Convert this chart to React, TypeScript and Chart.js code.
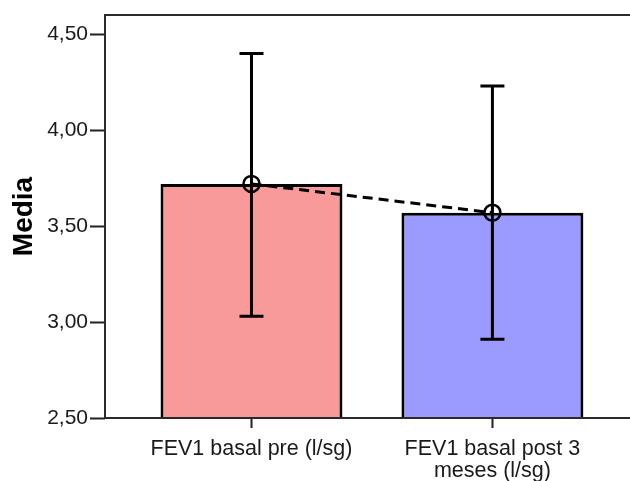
import React, { useEffect, useRef } from 'react';
import { Chart, registerables } from 'chart.js';

Chart.register(...registerables);

// Mean FEV1 before and 3 months after, with 95% CI
const categories: (string | string[])[] = [
  'FEV1 basal pre (l/sg)',
  ['FEV1 basal post 3', 'meses (l/sg)'],
];
const means: number[] = [3.72, 3.57];
const ciLow: number[] = [3.03, 2.91];
const ciHigh: number[] = [4.4, 4.23];
const barColors: string[] = ['#F99A9A', '#9A9AFF'];
const yTicks: number[] = [2.5, 3.0, 3.5, 4.0, 4.5];

const FONT = '"Liberation Sans", Arial, sans-serif';
const INK = '#1a1a1a';

const frame = {
  id: 'frame',
  afterDatasetsDraw(chart: any) {
    const { ctx, chartArea } = chart;
    ctx.save();
    ctx.strokeStyle = '#2a2a2a';
    ctx.lineWidth = 2;
    ctx.beginPath();
    ctx.moveTo(chart.width, chartArea.top);
    ctx.lineTo(chartArea.left, chartArea.top);
    ctx.lineTo(chartArea.left, chartArea.bottom);
    ctx.lineTo(chart.width, chartArea.bottom);
    ctx.stroke();
    ctx.restore();
  },
};

const errorBars = {
  id: 'errorBars',
  afterDatasetsDraw(chart: any) {
    const { ctx } = chart;
    const x = chart.scales.x;
    const y = chart.scales.y;
    ctx.save();
    ctx.strokeStyle = '#000';
    ctx.lineWidth = 3;
    means.forEach((_, i) => {
      const px = x.getPixelForValue(i);
      const top = y.getPixelForValue(ciHigh[i]);
      const bot = y.getPixelForValue(ciLow[i]);
      const cap = 12;
      ctx.beginPath();
      ctx.moveTo(px, top);
      ctx.lineTo(px, bot);
      ctx.moveTo(px - cap, top);
      ctx.lineTo(px + cap, top);
      ctx.moveTo(px - cap, bot);
      ctx.lineTo(px + cap, bot);
      ctx.stroke();
    });
    ctx.restore();
  },
};

export default function App() {
  const canvasRef = useRef<HTMLCanvasElement | null>(null);

  useEffect(() => {
    if (!canvasRef.current) return;
    const points = means.map((v, i) => ({ x: i, y: v }));
    const chart = new Chart(canvasRef.current, {
      type: 'bar',
      data: {
        datasets: [
          {
            type: 'line',
            data: points,
            borderColor: '#000',
            borderWidth: 3,
            borderDash: [10, 6],
            pointRadius: 8,
            pointBorderWidth: 2.5,
            pointBorderColor: '#000',
            pointBackgroundColor: 'rgba(0,0,0,0)',
            order: 0,
          } as any,
          {
            type: 'bar',
            data: points,
            backgroundColor: barColors,
            borderColor: '#000',
            borderWidth: 3,
            barPercentage: 0.755,
            categoryPercentage: 1,
            order: 1,
          } as any,
        ],
      },
      options: {
        responsive: false,
        animation: false,
        devicePixelRatio: 1,
        events: [],
        layout: { autoPadding: false, padding: { top: 15, left: 0, right: 0, bottom: 0 } },
        plugins: { legend: { display: false }, tooltip: { enabled: false } },
        scales: {
          x: {
            type: 'linear',
            min: -0.608,
            max: 1.571,
            offset: false,
            afterFit: (s: any) => {
              s.height = 63;
              s.paddingLeft = 0;
              s.paddingRight = 0;
            },
            afterBuildTicks: (s: any) => {
              s.ticks = categories.map((_, i) => ({ value: i }));
            },
            grid: {
              display: true,
              drawOnChartArea: false,
              drawTicks: true,
              tickLength: 10,
              tickWidth: 2,
              tickColor: '#222',
              offset: false,
            },
            border: { display: false },
            ticks: {
              autoSkip: false,
              maxRotation: 0,
              padding: 11,
              color: INK,
              font: { family: FONT, size: 21.5, lineHeight: 0.98 },
              callback: (v: any) => categories[Number(v)] ?? '',
            },
          },
          y: {
            type: 'linear',
            min: 2.5,
            max: 4.6,
            afterFit: (s: any) => {
              s.width = 105;
            },
            afterBuildTicks: (s: any) => {
              s.ticks = yTicks.map((v) => ({ value: v }));
            },
            grid: {
              display: true,
              drawOnChartArea: false,
              drawTicks: true,
              tickLength: 15,
              tickWidth: 2,
              tickColor: '#222',
            },
            border: { display: false },
            ticks: {
              padding: 2,
              color: INK,
              font: { family: FONT, size: 21 },
              callback: (v: any) => Number(v).toFixed(2).replace('.', ','),
            },
            title: {
              display: true,
              text: 'Media',
              color: '#000',
              padding: { top: 7, bottom: 0 },
              font: { family: FONT, size: 28, weight: 'bold' },
            },
          },
        },
      },
      plugins: [frame, errorBars],
    });
    return () => chart.destroy();
  }, []);

  return (
    <div style={{ position: 'absolute', left: 0, top: 0, width: 630, height: 481, background: '#fff' }}>
      <canvas ref={canvasRef} width={630} height={481} />
    </div>
  );
}
